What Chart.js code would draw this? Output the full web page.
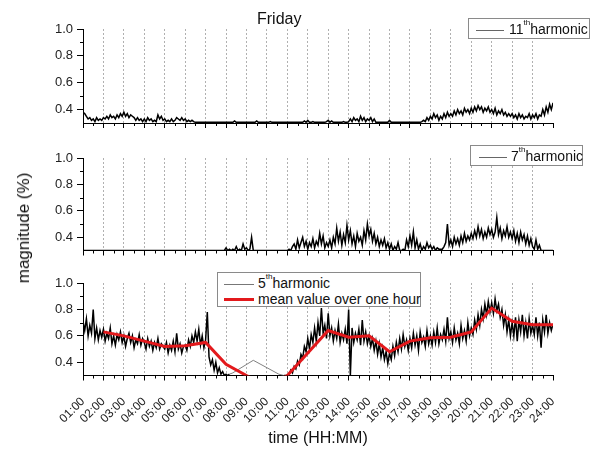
<!DOCTYPE html>
<html><head><meta charset="utf-8">
<script src="https://cdn.jsdelivr.net/npm/chart.js@4.4.0/dist/chart.umd.min.js"></script>
<style>
html,body{margin:0;padding:0;background:#fff;}
#wrap{position:relative;width:591px;height:450px;overflow:hidden;font-family:Arial,"Liberation Sans",sans-serif;color:#111;}
canvas{position:absolute;left:0;}
.txt{position:absolute;white-space:nowrap;}
.legend{position:absolute;background:#fff;border:1px solid #8a8a8a;font-size:14px;line-height:16px;box-sizing:border-box;}
.row{position:absolute;left:0;right:0;height:16px;}
.swatch{position:absolute;height:0;}
.lbl{position:absolute;top:0;white-space:nowrap;}
.lbl sup{font-size:8px;line-height:8px;vertical-align:top;position:relative;top:-2px;}
</style></head>
<body>
<div id="wrap">
  <canvas id="c11" width="591" height="140" style="top:0px"></canvas>
  <canvas id="c7" width="591" height="125" style="top:140px"></canvas>
  <canvas id="c5" width="591" height="185" style="top:265px"></canvas>

  <div class="txt" style="left:257px;top:10px;font-size:16px;">Friday</div>
  <div class="txt" style="left:24px;top:228px;font-size:17px;transform:translate(-50%,-50%) rotate(-90deg);">magnitude (%)</div>
  <div class="txt" style="left:318px;top:438px;font-size:16px;transform:translate(-50%,-50%);">time (HH:MM)</div>

  <div class="legend" style="left:468px;top:18px;width:122px;height:21px;">
    <div class="row" style="top:2px;">
      <div class="swatch" style="left:7px;top:9px;width:28px;border-top:1px solid #666;"></div>
      <div class="lbl" style="left:40px;">11<sup>th</sup>harmonic</div>
    </div>
  </div>
  <div class="legend" style="left:470px;top:145px;width:113px;height:21px;">
    <div class="row" style="top:2px;">
      <div class="swatch" style="left:8px;top:9px;width:28px;border-top:1px solid #666;"></div>
      <div class="lbl" style="left:40px;">7<sup>th</sup>harmonic</div>
    </div>
  </div>
  <div class="legend" style="left:217px;top:272px;width:204px;height:35px;">
    <div class="row" style="top:2px;">
      <div class="swatch" style="left:6px;top:9px;width:30px;border-top:1px solid #777;"></div>
      <div class="lbl" style="left:40px;">5<sup>th</sup>harmonic</div>
    </div>
    <div class="row" style="top:18px;">
      <div class="swatch" style="left:6px;top:7px;width:30px;border-top:3px solid #e3191c;"></div>
      <div class="lbl" style="left:40px;">mean value over one hour</div>
    </div>
  </div>
</div>
<script>
// ---------- data (5-minute samples starting at 01:00) ----------
const sampleMinutes = 5;
const startHour = 1;

const tickLabels = ['01:00','02:00','03:00','04:00','05:00','06:00','07:00','08:00','09:00','10:00','11:00','12:00',
                    '13:00','14:00','15:00','16:00','17:00','18:00','19:00','20:00','21:00','22:00','23:00','24:00'];
const hourTicks = [1,2,3,4,5,6,7,8,9,10,11,12,13,14,15,16,17,18,19,20,21,22,23,24];
const yTicks = [0.4, 0.6, 0.8, 1.0];
const yMinorTicks = [0.5, 0.7, 0.9];

const h11 = [
 0.38,0.37,0.35,0.33,0.34,0.32,0.33,0.31,0.34,0.32,0.33,0.32,
 0.34,0.33,0.35,0.33,0.36,0.34,0.35,0.33,0.36,0.34,0.37,0.35,
 0.38,0.35,0.37,0.34,0.36,0.35,0.34,0.32,0.34,0.32,0.33,0.31,
 0.33,0.31,0.34,0.32,0.33,0.31,0.32,0.31,0.36,0.33,0.35,0.32,
 0.33,0.31,0.32,0.31,0.33,0.31,0.32,0.34,0.33,0.32,0.34,0.32,
 0.33,0.31,0.32,0.31,0.32,0.31,0.305,0.305,0.305,0.305,0.305,0.305,
 0.305,0.305,0.305,0.305,0.305,0.305,0.305,0.305,0.305,0.305,0.305,0.305,
 0.305,0.305,0.305,0.305,0.305,0.315,0.305,0.305,0.305,0.305,0.305,0.305,
 0.305,0.305,0.305,0.305,0.305,0.305,0.315,0.305,0.305,0.305,0.305,0.305,
 0.305,0.305,0.31,0.305,0.305,0.305,0.305,0.305,0.305,0.305,0.305,0.305,
 0.305,0.305,0.305,0.305,0.305,0.305,0.305,0.305,0.305,0.305,0.315,0.305,
 0.32,0.305,0.305,0.31,0.305,0.305,0.305,0.305,0.305,0.305,0.305,0.31,
 0.32,0.305,0.315,0.305,0.305,0.305,0.305,0.305,0.305,0.31,0.305,0.305,
 0.31,0.33,0.31,0.34,0.32,0.33,0.31,0.35,0.32,0.34,0.31,0.33,
 0.32,0.34,0.31,0.33,0.305,0.305,0.305,0.305,0.305,0.305,0.305,0.305,
 0.32,0.305,0.305,0.305,0.305,0.305,0.305,0.305,0.305,0.305,0.305,0.305,
 0.305,0.305,0.305,0.305,0.305,0.305,0.305,0.31,0.32,0.31,0.34,0.32,
 0.35,0.33,0.37,0.34,0.36,0.32,0.35,0.33,0.37,0.34,0.38,0.35,
 0.37,0.35,0.39,0.36,0.40,0.37,0.39,0.36,0.41,0.38,0.40,0.37,
 0.41,0.38,0.42,0.39,0.43,0.40,0.42,0.38,0.41,0.39,0.42,0.38,
 0.40,0.37,0.41,0.36,0.39,0.37,0.40,0.36,0.38,0.35,0.37,0.35,
 0.37,0.34,0.36,0.33,0.37,0.34,0.36,0.33,0.35,0.34,0.37,0.33,
 0.36,0.34,0.37,0.33,0.36,0.35,0.40,0.36,0.42,0.38,0.44,0.40,
 0.45
];

const h7 = [
 0.30,0.30,0.30,0.30,0.30,0.30,0.30,0.30,0.30,0.30,0.30,0.30,
 0.30,0.30,0.30,0.30,0.30,0.30,0.30,0.30,0.30,0.30,0.30,0.30,
 0.30,0.30,0.30,0.30,0.30,0.30,0.30,0.30,0.30,0.30,0.30,0.30,
 0.30,0.30,0.30,0.30,0.30,0.30,0.30,0.30,0.30,0.30,0.30,0.30,
 0.30,0.30,0.30,0.30,0.30,0.30,0.30,0.30,0.30,0.30,0.30,0.30,
 0.30,0.30,0.30,0.30,0.30,0.30,0.30,0.30,0.30,0.30,0.30,0.30,
 0.30,0.30,0.30,0.30,0.30,0.30,0.30,0.30,0.30,0.30,0.30,0.30,
 0.32,0.30,0.31,0.30,0.31,0.30,0.33,0.30,0.31,0.30,0.35,0.31,
 0.32,0.30,0.31,0.40,0.30,0.30,0.30,0.30,0.30,0.30,0.30,0.30,
 0.30,0.30,0.30,0.30,0.30,0.30,0.30,0.30,0.30,0.30,0.30,0.30,
 0.30,0.31,0.30,0.33,0.35,0.31,0.38,0.32,0.36,0.40,0.33,0.37,
 0.31,0.36,0.33,0.39,0.32,0.37,0.34,0.43,0.35,0.41,0.32,0.36,
 0.33,0.38,0.32,0.40,0.35,0.47,0.37,0.44,0.34,0.42,0.36,0.49,
 0.38,0.45,0.35,0.41,0.33,0.43,0.37,0.40,0.34,0.45,0.38,0.50,
 0.41,0.46,0.37,0.43,0.35,0.40,0.33,0.38,0.34,0.39,0.32,0.36,
 0.31,0.35,0.30,0.33,0.31,0.36,0.30,0.30,0.31,0.30,0.38,0.33,
 0.41,0.34,0.44,0.32,0.38,0.31,0.35,0.30,0.33,0.31,0.36,0.32,
 0.34,0.31,0.33,0.30,0.32,0.31,0.31,0.31,0.33,0.36,0.50,0.34,
 0.38,0.33,0.40,0.35,0.39,0.34,0.41,0.36,0.43,0.37,0.41,0.38,
 0.43,0.39,0.45,0.40,0.48,0.41,0.46,0.39,0.44,0.40,0.47,0.42,
 0.46,0.40,0.44,0.55,0.42,0.47,0.39,0.45,0.41,0.48,0.40,0.44,
 0.39,0.45,0.37,0.43,0.36,0.44,0.38,0.42,0.35,0.41,0.34,0.39,
 0.33,0.31,0.38,0.31,0.34,0.30,0.30,0.30,0.30,0.30,0.30,0.30,
 0.30
];

const h5 = [
 0.71,0.64,0.73,0.60,0.68,0.62,0.80,0.58,0.66,0.57,0.64,0.59,
 0.65,0.56,0.62,0.58,0.66,0.54,0.60,0.53,0.61,0.57,0.63,0.55,
 0.60,0.52,0.58,0.62,0.55,0.60,0.51,0.57,0.54,0.61,0.53,0.58,
 0.55,0.50,0.58,0.52,0.56,0.49,0.55,0.51,0.58,0.50,0.54,0.52,
 0.50,0.55,0.47,0.53,0.49,0.56,0.48,0.62,0.50,0.54,0.47,0.52,
 0.53,0.49,0.57,0.52,0.60,0.55,0.63,0.56,0.65,0.53,0.60,0.51,
 0.57,0.78,0.44,0.38,0.42,0.34,0.40,0.32,0.36,0.31,0.33,0.30,
 0.31,0.30,0.31,null,0.32,null,null,null,null,null,null,null,
 null,null,null,null,0.415,null,null,null,null,null,null,null,
 null,null,null,null,null,null,null,0.31,null,null,0.30,0.30,
 0.30,0.31,0.34,0.32,0.37,0.35,0.41,0.38,0.46,0.43,0.52,0.48,
 0.58,0.50,0.61,0.55,0.66,0.56,0.70,0.60,0.81,0.62,0.68,0.58,
 0.77,0.60,0.66,0.56,0.64,0.58,0.69,0.55,0.62,0.57,0.65,0.54,
 0.80,0.30,0.66,0.55,0.62,0.57,0.65,0.53,0.72,0.56,0.63,0.54,
 0.60,0.52,0.58,0.49,0.56,0.46,0.54,0.44,0.51,0.42,0.48,0.39,
 0.47,0.42,0.52,0.45,0.55,0.48,0.58,0.50,0.61,0.52,0.57,0.49,
 0.58,0.51,0.62,0.53,0.60,0.49,0.63,0.55,0.59,0.52,0.64,0.54,
 0.60,0.53,0.63,0.55,0.66,0.54,0.61,0.57,0.65,0.56,0.74,0.58,
 0.63,0.55,0.66,0.57,0.62,0.54,0.68,0.58,0.64,0.56,0.70,0.60,
 0.66,0.61,0.72,0.65,0.76,0.68,0.80,0.73,0.84,0.76,0.86,0.78,
 0.85,0.77,0.88,0.79,0.84,0.74,0.80,0.68,0.76,0.63,0.72,0.60,
 0.70,0.60,0.74,0.56,0.72,0.63,0.76,0.60,0.70,0.58,0.73,0.62,
 0.68,0.61,0.74,0.60,0.70,0.51,0.72,0.63,0.76,0.62,0.70,0.64,
 0.69
];

const meanHours = [2,3,4,5,6,7,8,9,10,11,12,13,14,15,16,17,18,19,20,21,22,23,24];
const meanValues = [0.63,0.60,0.56,0.52,0.525,0.55,0.385,0.30,0.22,0.30,0.47,0.64,0.59,0.60,0.48,0.56,0.585,0.59,0.63,0.81,0.71,0.685,0.685];

// ---------- helpers ----------
const FONT = 'Arial, "Liberation Sans", sans-serif';
const PLOT_LEFT = 83, PLOT_RIGHT = 553, W = 591;

function toPoints(values) {
  const pts = [];
  values.forEach((v, i) => { if (v !== null) pts.push({ x: startHour + i * sampleMinutes / 60, y: v }); });
  return pts;
}

const minorHours = hourTicks.slice(0, -1).map(h => h + 0.5);
const minorTicks = {
  id: 'minorTicks',
  afterDraw(chart) {
    const { ctx, chartArea: a } = chart;
    const x = chart.scales.x, y = chart.scales.y;
    ctx.save();
    ctx.strokeStyle = '#000';
    ctx.lineWidth = 1;
    ctx.beginPath();
    minorHours.forEach(h => {
      const px = Math.round(x.getPixelForValue(h)) + 0.5;
      ctx.moveTo(px, a.bottom); ctx.lineTo(px, a.bottom + 3);
    });
    yMinorTicks.forEach(v => {
      const py = Math.round(y.getPixelForValue(v)) + 0.5;
      ctx.moveTo(a.left, py); ctx.lineTo(a.left - 3, py);
    });
    ctx.stroke();
    ctx.restore();
  }
};

function panel(id, datasets, padTop, padBottom, xHeight, showLabels) {
  return new Chart(document.getElementById(id), {
    type: 'line',
    data: { datasets },
    options: {
      responsive: false, animation: false, devicePixelRatio: 1,
      layout: { padding: { left: 0, right: W - PLOT_RIGHT, top: padTop, bottom: padBottom } },
      plugins: { legend: { display: false }, tooltip: { enabled: false }, title: { display: false } },
      elements: { point: { radius: 0 }, line: { tension: 0 } },
      scales: {
        x: {
          type: 'linear', min: 1, max: 24,
          afterBuildTicks: s => { s.ticks = hourTicks.map(v => ({ value: v })); },
          afterFit: s => { s.height = xHeight; s.paddingLeft = 0; s.paddingRight = 0; },
          grid: {
            drawOnChartArea: true,
            color: c => (c.tick && (c.tick.value === 1 || c.tick.value === 24)) ? 'rgba(0,0,0,0)' : '#b0b0b0',
            lineWidth: 1, drawTicks: true, tickLength: 5, tickColor: '#000', tickWidth: 1
          },
          border: { display: true, color: '#000', width: 1, dash: [2, 2] },
          ticks: {
            display: showLabels, autoSkip: false, minRotation: 45, maxRotation: 45, padding: 14,
            color: '#222', font: { size: 12, family: FONT },
            callback: v => tickLabels[Math.round(v) - 1]
          }
        },
        y: {
          min: 0.3, max: 1.0,
          afterBuildTicks: s => { s.ticks = yTicks.map(v => ({ value: v })); },
          afterFit: s => { s.width = PLOT_LEFT; s.paddingTop = 0; s.paddingBottom = 0; },
          grid: { drawOnChartArea: false, drawTicks: true, tickLength: 6, tickColor: '#000', tickWidth: 1 },
          border: { display: true, color: '#000', width: 1 },
          ticks: { padding: 4, color: '#222', font: { size: 13, family: FONT }, callback: v => Number(v).toFixed(1) }
        }
      }
    },
    plugins: [minorTicks]
  });
}

const gapColor = ctx => (ctx.p1.parsed.x - ctx.p0.parsed.x > 0.12 ? '#808080' : undefined);
const gapWidth = ctx => (ctx.p1.parsed.x - ctx.p0.parsed.x > 0.12 ? 1 : undefined);

panel('c11', [{
  label: '11th harmonic', data: toPoints(h11), borderColor: '#000', borderWidth: 1.5, pointRadius: 0
}], 29, 7, 10, false);

panel('c7', [{
  label: '7th harmonic', data: toPoints(h7), borderColor: '#000', borderWidth: 1.5, pointRadius: 0
}], 18, 4.5, 10, false);

panel('c5', [
  { label: 'mean value over one hour', data: meanHours.map((h, i) => ({ x: h, y: meanValues[i] })),
    borderColor: '#e3191c', borderWidth: 3, pointRadius: 0, order: 0 },
  { label: '5th harmonic', data: toPoints(h5), borderColor: '#000', borderWidth: 1.5, pointRadius: 0, order: 1,
    segment: { borderColor: gapColor, borderWidth: gapWidth } }
], 18, 4.5, 70, true);
</script>
</body></html>
